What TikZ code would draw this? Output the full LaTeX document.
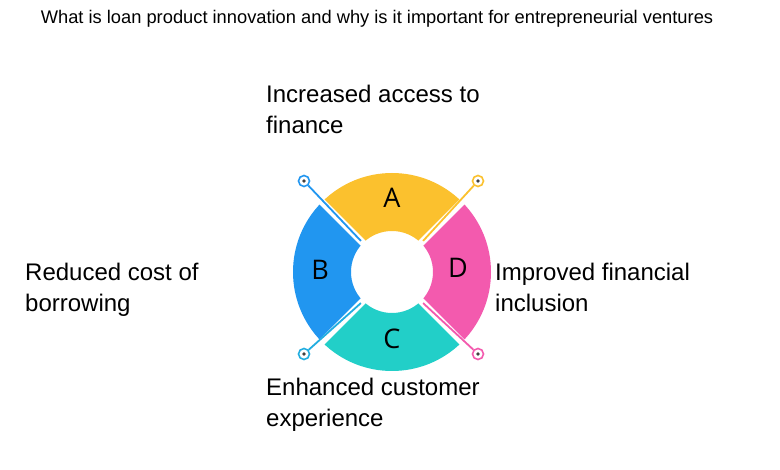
\documentclass[tikz,border=0pt]{standalone}
\usepackage{fontspec}
\setmainfont{Liberation Sans}
\newfontfamily\letf{Open Sans}
\usetikzlibrary{calc}
\definecolor{cA}{HTML}{FBC12E}
\definecolor{cB}{HTML}{2196F0}
\definecolor{cC}{HTML}{22CFC8}
\definecolor{cD}{HTML}{F35AAE}
\begin{document}
\begin{tikzpicture}[x=1pt,y=-1pt,
  lbl/.style={anchor=base west,align=left,font=\fontsize{24}{31}\selectfont,inner sep=0pt},
  letter/.style={font=\letf\fontsize{27}{27}\selectfont},
  endc/.style={circle,draw,line width=1.6pt,minimum size=11pt,inner sep=0pt,fill=white},
  gapline/.style={white,line width=7pt},
  conline/.style={line width=1.8pt}]
\useasboundingbox[fill=white] (0,0) rectangle (780,470);
\coordinate (O) at (392,272);
\def\R{99}\def\r{41}
\newcommand\sector[3]{\fill[#1] ($(O)+(#2:\R)$) arc[start angle=#2,end angle=#3,radius=\R] -- ($(O)+(#3:\r)$) arc[start angle=#3,end angle=#2,radius=\r] -- cycle;}
\sector{cA}{225}{315}
\sector{cB}{135}{225}
\sector{cC}{45}{135}
\sector{cD}{-45}{45}
\foreach \a in {45,135,225,315} \draw[gapline] ($(O)+(\a:\r-2)$) -- ($(O)+(\a:\R+3)$);
\node[endc,draw=cB] (e1) at (304,181) {};
\node[endc,draw=cA] (e2) at (478,181) {};
\node[endc,draw=cB!60!cC] (e3) at (304,354) {};
\node[endc,draw=cD] (e4) at (478,354) {};
\coordinate (i1) at ($(O)+(225:\r+3)$);
\coordinate (i2) at ($(O)+(315:\r+3)$);
\coordinate (i3) at ($(O)+(135:\r+3)$);
\coordinate (i4) at ($(O)+(45:\r+3)$);
\draw[conline,cB] (e1) -- (i1);
\draw[conline,cA] (e2) -- (i2);
\draw[conline,cB!60!cC] (e3) -- (i3);
\draw[conline,cD] (e4) -- (i4);
\foreach \e in {e1,e2,e3,e4} \fill[black!75] (\e) circle (1.8);
\node[letter] (A) at (392,198) {A};
\node[letter] (B) at (320,270) {B};
\node[letter] (C) at (392,339) {C};
\node[letter] (D) at (458,268) {D};
\node[anchor=base,font=\fontsize{18.3}{20}\selectfont] (title) at (377,24) {What is loan product innovation and why is it important for entrepreneurial ventures};
\node[lbl] (t1) at (266,134) {Increased access to\\finance};
\node[lbl] (t2) at (25,312) {Reduced cost of\\borrowing};
\node[lbl] (t3) at (495,312) {Improved financial\\inclusion};
\node[lbl] (t4) at (266,427) {Enhanced customer\\experience};
\end{tikzpicture}
\end{document}
